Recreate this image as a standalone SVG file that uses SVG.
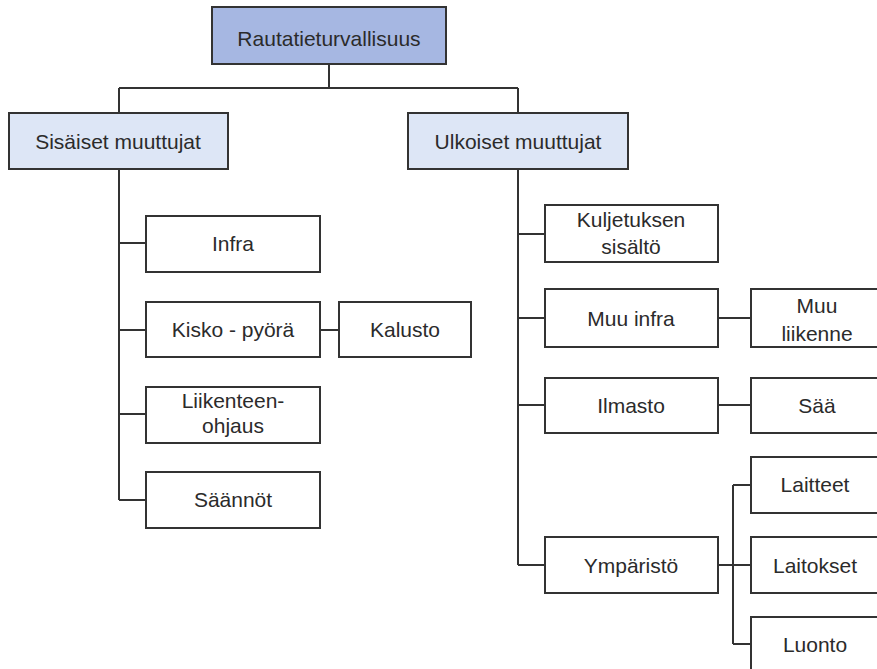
<svg xmlns="http://www.w3.org/2000/svg" width="877" height="669" viewBox="0 0 877 669">
  <style>
    .box { fill: #ffffff; stroke: #333333; stroke-width: 2; }
    .top { fill: #a6b7e2; }
    .mid { fill: #dde6f6; }
    .lbl { font-family: "Liberation Sans", Arial, sans-serif; font-size: 21px; fill: #2b2b2b; text-anchor: middle; }
    .wire { fill: none; stroke: #333333; stroke-width: 2; }
  </style>
  <rect width="877" height="669" fill="#ffffff"/>

  <g id="connectors">
    <path class="wire" d="M329 64V88M119 88H518M119 88V113M518 88V113"/>
    <path class="wire" d="M119 169V500M119 243H146M119 330H146M119 414H146M119 500H146M320 330H339"/>
    <path class="wire" d="M518 169V565M518 234H545M518 318H545M518 405H545M518 565H545"/>
    <path class="wire" d="M718 318H751M718 405H751M718 565H751M733 485V644M733 485H751M733 644H751"/>
  </g>

  <g id="rautatieturvallisuus">
    <rect class="box top" x="212" y="7" width="234" height="57"/>
    <text class="lbl" x="329" y="46">Rautatieturvallisuus</text>
  </g>
  <g id="sisaiset">
    <rect class="box mid" x="9" y="113" width="219" height="56"/>
    <text class="lbl" x="118" y="149">Sisäiset muuttujat</text>
  </g>
  <g id="ulkoiset">
    <rect class="box mid" x="408" y="113" width="220" height="56"/>
    <text class="lbl" x="518" y="149">Ulkoiset muuttujat</text>
  </g>

  <g id="infra">
    <rect class="box" x="146" y="216" width="174" height="56"/>
    <text class="lbl" x="233" y="251">Infra</text>
  </g>
  <g id="kisko-pyora">
    <rect class="box" x="146" y="302" width="174" height="55"/>
    <text class="lbl" x="233" y="337">Kisko - pyörä</text>
  </g>
  <g id="kalusto">
    <rect class="box" x="339" y="302" width="132" height="55"/>
    <text class="lbl" x="405" y="337">Kalusto</text>
  </g>
  <g id="liikenteenohjaus">
    <rect class="box" x="146" y="387" width="174" height="56"/>
    <text class="lbl" x="233" y="408">Liikenteen-</text>
    <text class="lbl" x="233" y="433">ohjaus</text>
  </g>
  <g id="saannot">
    <rect class="box" x="146" y="472" width="174" height="56"/>
    <text class="lbl" x="233" y="507">Säännöt</text>
  </g>

  <g id="kuljetuksen-sisalto">
    <rect class="box" x="545" y="205" width="173" height="57"/>
    <text class="lbl" x="631" y="227">Kuljetuksen</text>
    <text class="lbl" x="631" y="254">sisältö</text>
  </g>
  <g id="muu-infra">
    <rect class="box" x="545" y="289" width="173" height="58"/>
    <text class="lbl" x="631" y="326">Muu infra</text>
  </g>
  <g id="muu-liikenne">
    <rect class="box" x="751" y="289" width="132" height="58"/>
    <text class="lbl" x="817" y="313">Muu</text>
    <text class="lbl" x="817" y="341">liikenne</text>
  </g>
  <g id="ilmasto">
    <rect class="box" x="545" y="378" width="173" height="55"/>
    <text class="lbl" x="631" y="413">Ilmasto</text>
  </g>
  <g id="saa">
    <rect class="box" x="751" y="378" width="132" height="55"/>
    <text class="lbl" x="817" y="413">Sää</text>
  </g>
  <g id="ymparisto">
    <rect class="box" x="545" y="537" width="173" height="56"/>
    <text class="lbl" x="631" y="573">Ympäristö</text>
  </g>
  <g id="laitteet">
    <rect class="box" x="751" y="457" width="132" height="56"/>
    <text class="lbl" x="815" y="492">Laitteet</text>
  </g>
  <g id="laitokset">
    <rect class="box" x="751" y="537" width="132" height="56"/>
    <text class="lbl" x="815" y="573">Laitokset</text>
  </g>
  <g id="luonto">
    <rect class="box" x="751" y="617" width="132" height="60"/>
    <text class="lbl" x="815" y="652">Luonto</text>
  </g>
</svg>
